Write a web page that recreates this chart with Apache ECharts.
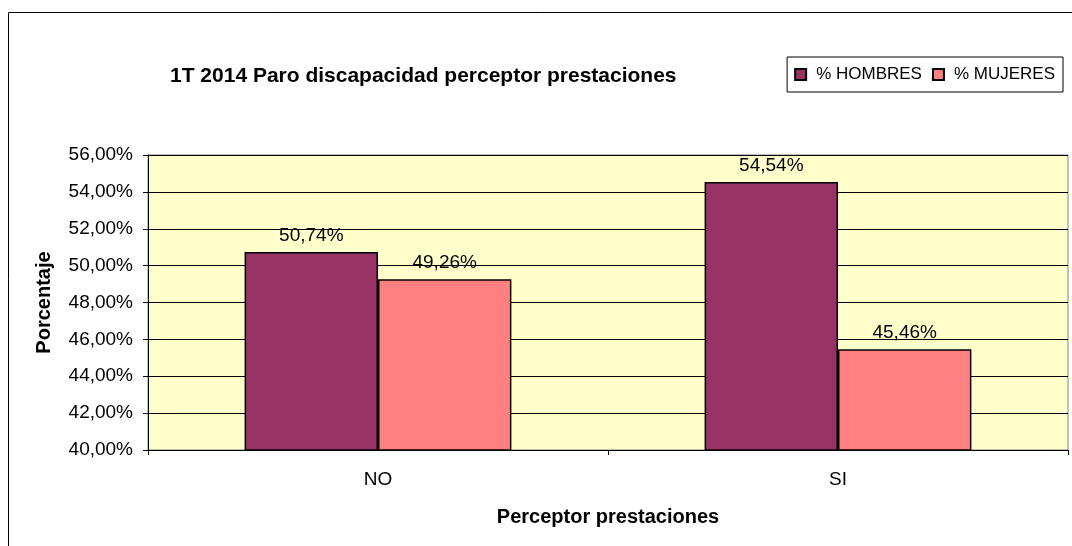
<!DOCTYPE html>
<html>
<head>
<meta charset="utf-8">
<script src="https://cdn.jsdelivr.net/npm/echarts@6/dist/echarts.min.js"></script>
<style>
  html, body { margin: 0; padding: 0; background: #fff; }
  #chart { width: 1072px; height: 546px; }
</style>
</head>
<body>
<div id="chart"></div>
<script>
// datos
const categorias = ['NO', 'SI']
const hombres = [50.74, 54.54]
const mujeres = [49.26, 45.46]

const fmt = v => v.toFixed(2).replace('.', ',') + '%'
const font = 'Liberation Sans, Arial, sans-serif'

const chart = echarts.init(document.getElementById('chart'))

const labelCfg = {
  show: true,
  position: 'top',
  distance: 7,
  color: '#000',
  fontFamily: font,
  fontSize: 19,
  formatter: p => fmt(p.value)
}

chart.setOption({
  animation: false,
  backgroundColor: '#fff',
  textStyle: { fontFamily: font },
  graphic: [
    {
      type: 'rect',
      silent: true,
      shape: { x: 8.5, y: 12.5, width: 1100, height: 600 },
      style: { fill: 'none', stroke: '#000', lineWidth: 1 }
    }
  ],
  title: {
    text: '1T 2014 Paro discapacidad perceptor prestaciones',
    left: 165,
    top: 61,
    textStyle: { fontFamily: font, fontSize: 21, fontWeight: 'bold', color: '#000' }
  },
  legend: {
    right: 9,
    top: 57,
    orient: 'horizontal',
    backgroundColor: '#fff',
    borderColor: '#000',
    borderWidth: 1,
    borderRadius: 0,
    padding: [9, 8, 9, 7],
    itemWidth: 11,
    itemHeight: 11,
    itemGap: 10,
    icon: 'rect',
    textStyle: { fontFamily: font, fontSize: 17, color: '#000', padding: [0, 0, 0, 5] },
    data: ['% HOMBRES', '% MUJERES']
  },
  grid: {
    left: 148,
    right: 4,
    top: 155,
    bottom: 96,
    show: true,
    backgroundColor: '#FFFFCC',
    borderColor: '#808080',
    borderWidth: 1
  },
  xAxis: {
    type: 'category',
    data: categorias,
    name: 'Perceptor prestaciones',
    nameLocation: 'middle',
    nameGap: 57,
    nameTextStyle: { fontFamily: font, fontSize: 20, fontWeight: 'bold', color: '#000' },
    axisLine: { lineStyle: { color: '#000', width: 1 } },
    axisTick: { show: true, length: 5, lineStyle: { color: '#000' } },
    axisLabel: { color: '#000', fontSize: 19, fontFamily: font, margin: 20 }
  },
  yAxis: {
    type: 'value',
    min: 40,
    max: 56,
    interval: 2,
    name: 'Porcentaje',
    nameLocation: 'middle',
    nameGap: 94,
    nameTextStyle: { fontFamily: font, fontSize: 20, fontWeight: 'bold', color: '#000' },
    axisLine: { show: true, lineStyle: { color: '#000', width: 1 } },
    axisTick: { show: true, length: 5, lineStyle: { color: '#000' } },
    axisLabel: { color: '#000', fontSize: 19, fontFamily: font, margin: 15, formatter: v => fmt(v) },
    splitLine: { show: true, lineStyle: { color: '#000', width: 1 } }
  },
  series: [
    {
      name: '% HOMBRES',
      type: 'bar',
      data: hombres,
      barWidth: '29%',
      barGap: '0%',
      itemStyle: { color: '#993366', borderColor: '#000', borderWidth: 1.5 },
      label: labelCfg
    },
    {
      name: '% MUJERES',
      type: 'bar',
      data: mujeres,
      barWidth: '29%',
      itemStyle: { color: '#FF8080', borderColor: '#000', borderWidth: 1.5 },
      label: labelCfg
    }
  ]
})
</script>
</body>
</html>
